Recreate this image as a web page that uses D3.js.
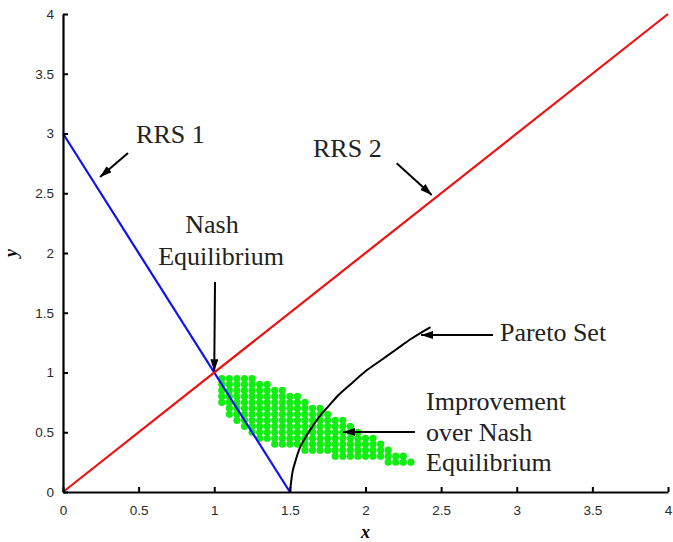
<!DOCTYPE html>
<html>
<head>
<meta charset="utf-8">
<script src="https://cdn.jsdelivr.net/npm/d3@7"></script>
<style>
  body { margin: 0; background: #fff; }
  .tick text { font-family: "Liberation Sans", Arial, sans-serif; font-size: 13.5px; fill: #2a2a2a; }
  .note { font-family: "Liberation Serif", "Times New Roman", serif; font-size: 26px; fill: #222; }
</style>
</head>
<body>
<div id="chart"></div>
<script>
// axis ticks
var xTicks = [0, 0.5, 1, 1.5, 2, 2.5, 3, 3.5, 4];
var yTicks = [0, 0.5, 1, 1.5, 2, 2.5, 3, 3.5, 4];

// reaction curves
var rrs1X = [0, 1.5];
var rrs1Y = [3, 0];
var rrs2X = [0, 4];
var rrs2Y = [0, 4];

// pareto set
var paretoX = [1.5, 1.505, 1.515, 1.535, 1.56, 1.6, 1.65, 1.7, 1.75, 1.82, 1.9, 2.0, 2.1, 2.2, 2.3, 2.43];
var paretoY = [0, 0.05, 0.15, 0.25, 0.35, 0.45, 0.55, 0.64, 0.71, 0.81, 0.9, 1.01, 1.1, 1.19, 1.28, 1.38];

// improvement region: one column of dots per x, from top y down to bottom y
var dotX      = [1.05, 1.1, 1.15, 1.2, 1.25, 1.3, 1.35, 1.4, 1.45, 1.5, 1.55, 1.6, 1.65, 1.7, 1.75, 1.8, 1.85, 1.9, 1.95, 2.0, 2.05, 2.1, 2.15, 2.2, 2.25, 2.3];
var dotTop    = [0.95, 0.95, 0.95, 0.95, 0.95, 0.9, 0.9, 0.85, 0.85, 0.8, 0.8, 0.75, 0.7, 0.7, 0.65, 0.6, 0.6, 0.55, 0.5, 0.45, 0.45, 0.4, 0.35, 0.3, 0.3, 0.25];
var dotBottom = [0.75, 0.65, 0.6, 0.55, 0.5, 0.45, 0.45, 0.4, 0.4, 0.4, 0.4, 0.35, 0.35, 0.35, 0.35, 0.3, 0.3, 0.3, 0.3, 0.3, 0.3, 0.3, 0.25, 0.25, 0.25, 0.25];
var dotStep = 0.05;

var margin = {top: 14, right: 5, bottom: 50, left: 63};
var width = 673 - margin.left - margin.right,
	height = 542 - margin.top - margin.bottom;

var xScale = d3.scaleLinear().domain([0, 4]).range([0, width]);
var yScale = d3.scaleLinear().domain([0, 4]).range([height, 0]);

var svg = d3.select('#chart').append('svg')
	.attr('width', width + margin.left + margin.right)
	.attr('height', height + margin.top + margin.bottom);

svg.append('defs').append('marker')
	.attr('id', 'head')
	.attr('viewBox', '0 0 12 8')
	.attr('refX', 12).attr('refY', 4)
	.attr('markerWidth', 12).attr('markerHeight', 8)
	.attr('markerUnits', 'userSpaceOnUse')
	.attr('orient', 'auto')
	.append('path').attr('d', 'M0,0 L12,4 L0,8 Z').attr('fill', '#000');

var g = svg.append('g')
	.attr('transform', 'translate(' + margin.left + ',' + margin.top + ')');

// green dots
var dots = [];
dotX.forEach(function(x, i) {
	for (var y = dotTop[i]; y >= dotBottom[i] - 1e-9; y -= dotStep) {
		dots.push([x, y]);
	}
});
g.selectAll('circle.dot').data(dots)
	.enter().append('circle')
	.attr('class', 'dot')
	.attr('cx', function(d) { return xScale(d[0]); })
	.attr('cy', function(d) { return yScale(d[1]); })
	.attr('r', 3.6)
	.attr('fill', '#11ee11');

var line = d3.line()
	.x(function(d) { return xScale(d[0]); })
	.y(function(d) { return yScale(d[1]); });

g.append('path')
	.datum(d3.zip(rrs1X, rrs1Y))
	.attr('d', line)
	.attr('fill', 'none').attr('stroke', '#1010ee').attr('stroke-width', 2.2);

g.append('path')
	.datum(d3.zip(rrs2X, rrs2Y))
	.attr('d', line)
	.attr('fill', 'none').attr('stroke', '#ee1111').attr('stroke-width', 2.2);

g.append('path')
	.datum(d3.zip(paretoX, paretoY))
	.attr('d', line.curve(d3.curveMonotoneX))
	.attr('fill', 'none').attr('stroke', '#000').attr('stroke-width', 2);

// axes, ticks pointing inward
var xAxis = d3.axisBottom(xScale).tickValues(xTicks).tickSizeInner(-5).tickSizeOuter(0).tickPadding(9).tickFormat(d3.format('~g'));
var yAxis = d3.axisLeft(yScale).tickValues(yTicks).tickSizeInner(-5).tickSizeOuter(0).tickPadding(9).tickFormat(d3.format('~g'));

var xg = g.append('g').attr('transform', 'translate(0,' + height + ')').call(xAxis);
var yg = g.append('g').call(yAxis);
[xg, yg].forEach(function(a) {
	a.select('.domain').attr('stroke', '#000').attr('stroke-width', 2.2);
	a.selectAll('.tick line').attr('stroke', '#000').attr('stroke-width', 2);
});
xg.selectAll('.tick text').attr('dy', '1.0em');

g.append('text')
	.attr('x', width / 2).attr('y', height + 46)
	.attr('text-anchor', 'middle')
	.style('font', 'italic bold 18px "Liberation Serif", serif')
	.text('x');
g.append('text')
	.attr('transform', 'translate(' + (-46) + ',' + (height / 2) + ') rotate(-90)')
	.attr('text-anchor', 'middle')
	.style('font', 'italic bold 18px "Liberation Serif", serif')
	.text('y');

// annotations (data coordinates)
var notes = [
	{t: 'RRS 1', x: 0.483, y: 2.92, a: 'start'},
	{t: 'RRS 2', x: 1.653, y: 2.803, a: 'start'},
	{t: 'Nash', x: 0.985, y: 2.167, a: 'middle'},
	{t: 'Equilibrium', x: 1.045, y: 1.9, a: 'middle'},
	{t: 'Pareto Set', x: 2.889, y: 1.264, a: 'start'},
	{t: 'Improvement', x: 2.4, y: 0.686, a: 'start'},
	{t: 'over Nash', x: 2.4, y: 0.427, a: 'start'},
	{t: 'Equilibrium', x: 2.4, y: 0.176, a: 'start'}
];
g.selectAll('text.note').data(notes)
	.enter().append('text')
	.attr('class', 'note')
	.attr('x', function(d) { return xScale(d.x); })
	.attr('y', function(d) { return yScale(d.y); })
	.attr('text-anchor', function(d) { return d.a; })
	.text(function(d) { return d.t; });

var arrows = [
	[0.43, 2.837, 0.245, 2.636],
	[2.206, 2.751, 2.438, 2.485],
	[1.005, 1.757, 1.0, 1.01],
	[2.843, 1.314, 2.367, 1.314],
	[2.327, 0.502, 1.851, 0.502]
];
g.selectAll('line.arrow').data(arrows)
	.enter().append('line')
	.attr('class', 'arrow')
	.attr('x1', function(d) { return xScale(d[0]); })
	.attr('y1', function(d) { return yScale(d[1]); })
	.attr('x2', function(d) { return xScale(d[2]); })
	.attr('y2', function(d) { return yScale(d[3]); })
	.attr('stroke', '#000').attr('stroke-width', 2)
	.attr('marker-end', 'url(#head)');
</script>
</body>
</html>
